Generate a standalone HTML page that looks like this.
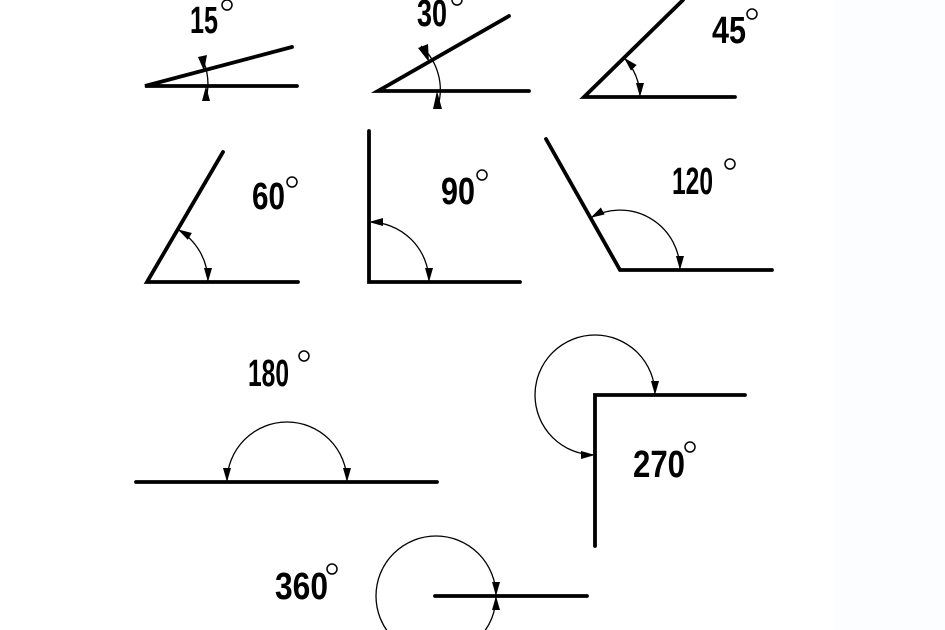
<!DOCTYPE html>
<html><head><meta charset="utf-8"><style>
html,body{margin:0;padding:0;background:#fff;}
svg{display:block;}
text{font-family:"Liberation Sans Narrow","Liberation Sans",sans-serif;font-size:38px;font-weight:bold;fill:#000;}
</style></head><body>
<svg width="945" height="630" viewBox="0 0 945 630" xmlns="http://www.w3.org/2000/svg">
<defs>
<marker id="a" markerUnits="userSpaceOnUse" markerWidth="16" markerHeight="10" refX="14" refY="4" orient="auto-start-reverse">
<path d="M0,0 L14,4 L0,8 z" fill="#000"/></marker>
</defs>
<rect x="835" y="0" width="110" height="630" fill="#fbfdfe"/>
<g stroke="#000" stroke-width="3.8" stroke-linecap="round" stroke-linejoin="miter" fill="none">
<polyline points="292,47 145,86 297,86"/>
<polyline points="509,16 378,91 529,91"/>
<polyline points="683,0 584,97 735,97"/>
<polyline points="223,152 147,282 298,282"/>
<polyline points="369,131 369,282 520,282"/>
<polyline points="546,139 620,270 772,270"/>
<line x1="136" y1="482" x2="437" y2="482"/>
<polyline points="595,546 595,395 745,395"/>
<line x1="435" y1="596" x2="587" y2="596"/>
</g>
<g stroke="#000" stroke-width="1.3" fill="none">
<path d="M206,99 A61,61 0 0 0 202,58"/>
<path d="M438,106 A59,59 0 0 0 421,46"/>
<path d="M624,57.8 A56,56 0 0 1 640,97" marker-start="url(#a)" marker-end="url(#a)"/>
<path d="M177.8,229.4 A61,61 0 0 1 208,282" marker-start="url(#a)" marker-end="url(#a)"/>
<path d="M369,222 A60,60 0 0 1 429,282" marker-start="url(#a)" marker-end="url(#a)"/>
<path d="M590.6,217.8 A60,60 0 0 1 680,270" marker-start="url(#a)" marker-end="url(#a)"/>
<path d="M227,482 A60,60 0 0 1 347,482" marker-start="url(#a)" marker-end="url(#a)"/>
<path d="M655,395 A60,60 0 1 0 595,455" marker-start="url(#a)" marker-end="url(#a)"/>
<circle cx="436" cy="596" r="60"/>
</g>
<g fill="#000">
<polygon points="206,86 202,101 210,101"/>
<polygon points="204,71 198,57 207,55"/>
<polygon points="437,91 433,109 442,109"/>
<polygon points="429,62 418,48 428,44"/>
<polygon points="496,596 492,582 500,582"/>
<polygon points="496,596 492,610 500,610"/>
</g>
<g>
<text x="190" y="33" textLength="28" lengthAdjust="spacingAndGlyphs">15</text>
<text x="417" y="26" textLength="30" lengthAdjust="spacingAndGlyphs">30</text>
<text x="712" y="43" textLength="34" lengthAdjust="spacingAndGlyphs">45</text>
<text x="252" y="209" textLength="33" lengthAdjust="spacingAndGlyphs">60</text>
<text x="441" y="204" textLength="34" lengthAdjust="spacingAndGlyphs">90</text>
<text x="672" y="194" textLength="41" lengthAdjust="spacingAndGlyphs">120</text>
<text x="248" y="386" textLength="41" lengthAdjust="spacingAndGlyphs">180</text>
<text x="633" y="477" textLength="52" lengthAdjust="spacingAndGlyphs">270</text>
<text x="275" y="599" textLength="53" lengthAdjust="spacingAndGlyphs">360</text>
</g>
<g stroke="#000" stroke-width="1.5" fill="none">
<circle cx="227" cy="5" r="5"/>
<circle cx="457" cy="0" r="5"/>
<circle cx="752" cy="14" r="5"/>
<circle cx="292" cy="182" r="5"/>
<circle cx="482" cy="175" r="5"/>
<circle cx="730" cy="164" r="5"/>
<circle cx="304" cy="356" r="5"/>
<circle cx="690" cy="447" r="5"/>
<circle cx="332" cy="569" r="5"/>
</g>
</svg>
</body></html>
